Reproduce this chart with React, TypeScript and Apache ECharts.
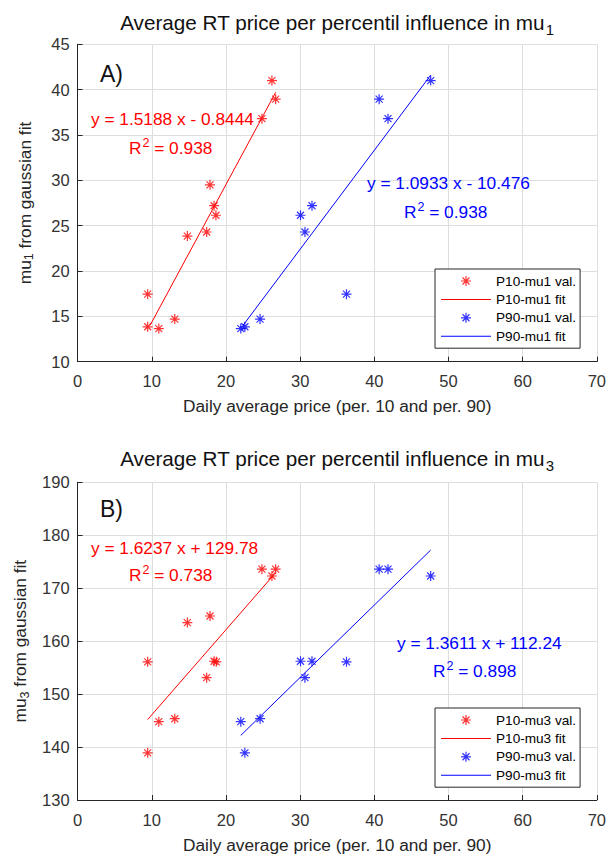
import React, { useEffect, useRef } from "react";
import * as echarts from "echarts";

// ---------- data ----------
// Panel A: mu1
const p10PriceA = [26.2, 26.7, 24.85, 17.85, 18.4, 18.65, 14.8, 17.4, 9.45, 9.45, 10.95, 13.1];
const p10Mu1 = [41.0, 38.95, 36.8, 29.5, 27.2, 26.15, 23.85, 24.3, 17.45, 13.85, 13.65, 14.7];
const p90PriceA = [47.6, 40.65, 41.85, 30.05, 31.6, 30.65, 36.25, 22.0, 22.55, 24.6];
const p90Mu1 = [41.0, 38.95, 36.8, 26.15, 27.2, 24.3, 17.45, 13.65, 13.85, 14.7];
const p10FitA = [[9.8, 14.05], [26.7, 39.7]];
const p90FitA = [[22.3, 14.0], [47.6, 41.6]];

// Panel B: mu3
const p10PriceB = [24.85, 26.7, 26.2, 17.85, 14.8, 9.45, 18.4, 18.7, 17.4, 10.95, 13.1, 9.45];
const p10Mu3 = [173.6, 173.6, 172.3, 164.75, 163.5, 156.1, 156.2, 156.1, 153.1, 144.8, 145.35, 138.9];
const p90PriceB = [40.65, 41.85, 47.6, 30.05, 31.6, 36.25, 30.65, 22.0, 24.6, 22.55];
const p90Mu3 = [173.6, 173.6, 172.3, 156.2, 156.2, 156.1, 153.1, 144.8, 145.35, 138.9];
const p10FitB = [[9.45, 145.2], [26.5, 172.6]];
const p90FitB = [[22.0, 142.2], [47.6, 177.2]];

const xTicks = { min: 0, max: 70, interval: 10 };
const yTicksA = { min: 10, max: 45, interval: 5 };
const yTicksB = { min: 130, max: 190, interval: 10 };

const eqA = ["y = 1.5188 x - 0.8444", "0.938", "y = 1.0933 x - 10.476", "0.938"];
const eqB = ["y = 1.6237 x + 129.78", "0.738", "y = 1.3611 x + 112.24", "0.898"];

// ---------- styling ----------
const FONT = '"Liberation Sans", Arial, Helvetica, sans-serif';
const RED = "#ff0000";
const BLUE = "#0000ff";
const AX = "#262626";
const STAR =
  "path://M8.8,0H11.2V20H8.8Z M0,8.8H20V11.2H0Z M2.15,3.85L3.85,2.15L17.85,16.15L16.15,17.85Z M16.15,2.15L17.85,3.85L3.85,17.85L2.15,16.15Z";
const LINE_ICON = "path://M0,0H50V1H0Z";

const pairs = (xs: number[], ys: number[]) => xs.map((x, i) => [x, ys[i]]);

function App() {
  const ref = useRef<HTMLDivElement>(null);
  useEffect(() => {
    if (!ref.current) return;
    const chart = echarts.init(ref.current, undefined, { renderer: "svg" });

    const grids = [
      { left: 77.6, top: 44.3, width: 519.4, height: 317.4 },
      { left: 77.6, top: 482.3, width: 519.4, height: 317.7 },
    ];

    const xAxis = (gi: number) => ({
      type: "value",
      gridIndex: gi,
      ...xTicks,
      name: "Daily average price (per. 10 and per. 90)",
      nameLocation: "middle",
      nameGap: 36,
      nameTextStyle: { fontSize: 17.3, color: AX, fontFamily: FONT },
      axisLine: { show: true, lineStyle: { color: AX, width: 1 } },
      axisTick: { show: true, inside: true, length: 5, lineStyle: { color: AX } },
      axisLabel: { fontSize: 16.5, color: "#333", margin: 11, fontFamily: FONT },
      splitLine: { show: true, lineStyle: { color: "#dedede", width: 1 } },
    });

    const yAxis = (gi: number, ticks: any, sub: string) => ({
      type: "value",
      gridIndex: gi,
      ...ticks,
      name: `{a|mu}{s|${sub}}{a| from gaussian fit}`,
      nameLocation: "middle",
      nameGap: 42,
      nameTextStyle: {
        color: AX,
        rich: {
          a: { fontSize: 17.3, color: AX, fontFamily: FONT },
          s: { fontSize: 12.5, color: AX, fontFamily: FONT, padding: [9, 0, 0, 0] },
        },
      },
      axisLine: { show: true, lineStyle: { color: AX, width: 1 } },
      axisTick: { show: true, inside: true, length: 5, lineStyle: { color: AX } },
      axisLabel: { fontSize: 16.5, color: "#333", margin: 8, fontFamily: FONT },
      splitLine: { show: true, lineStyle: { color: "#dedede", width: 1 } },
    });

    const scatter = (name: string, data: number[][], color: string, gi: number) => ({
      name,
      type: "scatter",
      xAxisIndex: gi,
      yAxisIndex: gi,
      data,
      symbol: STAR,
      symbolSize: 10,
      symbolKeepAspect: true,
      itemStyle: { color },
      z: 3,
    });
    const fit = (name: string, data: number[][], color: string, gi: number) => ({
      name,
      type: "line",
      xAxisIndex: gi,
      yAxisIndex: gi,
      data,
      symbol: "none",
      showSymbol: false,
      lineStyle: { color, width: 1 },
      itemStyle: { color },
      z: 2,
    });

    const legend = (top: number, names: string[]) => ({
      orient: "vertical",
      left: 435,
      top,
      data: [
        { name: names[0] },
        { name: names[1], icon: LINE_ICON },
        { name: names[2] },
        { name: names[3], icon: LINE_ICON },
      ],
      itemWidth: 50,
      itemHeight: 10,
      itemGap: 2.4,
      padding: [4, 4, 4, 6],
      borderColor: AX,
      borderWidth: 1,
      backgroundColor: "#ffffff",
      selectedMode: false,
      textStyle: { fontSize: 13.6, color: "#000", fontFamily: FONT, lineHeight: 16 },
    });

    const titleText = (y: number, sub: string) => ({
      type: "text",
      x: 337,
      y,
      z: 10,
      style: {
        text: `{t|Average RT price per percentil influence in mu}{s|${sub}}`,
        align: "center",
        verticalAlign: "middle",
        textAlign: "center",
        textVerticalAlign: "middle",
        fill: "#111",
        rich: {
          t: { fontSize: 20.7, fontFamily: FONT, fill: "#111", color: "#111" },
          s: { fontSize: 15, fontFamily: FONT, fill: "#111", color: "#111", padding: [14, 0, 0, 1] },
        },
      },
    });

    const plainText = (x: number, y: number, text: string, color: string, size: number) => ({
      type: "text",
      x,
      y,
      z: 10,
      style: {
        text,
        fill: color,
        fontSize: size,
        fontFamily: FONT,
        align: "left",
        verticalAlign: "middle",
        textAlign: "left",
        textVerticalAlign: "middle",
      },
    });

    const r2Text = (x: number, y: number, val: string, color: string) => ({
      type: "text",
      x,
      y,
      z: 10,
      style: {
        text: `{a|R}{p|2}{a| = ${val}}`,
        fill: color,
        align: "left",
        verticalAlign: "middle",
        textAlign: "left",
        textVerticalAlign: "middle",
        rich: {
          a: { fontSize: 17.3, fontFamily: FONT, fill: color, color },
          p: { fontSize: 12.5, fontFamily: FONT, fill: color, color, padding: [0, 0, 10, 1] },
        },
      },
    });

    chart.setOption({
      animation: false,
      textStyle: { fontFamily: FONT },
      grid: grids,
      xAxis: [xAxis(0), xAxis(1)],
      yAxis: [yAxis(0, yTicksA, "1"), yAxis(1, yTicksB, "3")],
      legend: [
        legend(269, ["P10-mu1 val.", "P10-mu1 fit", "P90-mu1 val.", "P90-mu1 fit"]),
        legend(708, ["P10-mu3 val.", "P10-mu3 fit", "P90-mu3 val.", "P90-mu3 fit"]),
      ],
      series: [
        scatter("P10-mu1 val.", pairs(p10PriceA, p10Mu1), RED, 0),
        fit("P10-mu1 fit", p10FitA, RED, 0),
        scatter("P90-mu1 val.", pairs(p90PriceA, p90Mu1), BLUE, 0),
        fit("P90-mu1 fit", p90FitA, BLUE, 0),
        scatter("P10-mu3 val.", pairs(p10PriceB, p10Mu3), RED, 1),
        fit("P10-mu3 fit", p10FitB, RED, 1),
        scatter("P90-mu3 val.", pairs(p90PriceB, p90Mu3), BLUE, 1),
        fit("P90-mu3 fit", p90FitB, BLUE, 1),
      ],
      graphic: [
        titleText(22, "1"),
        titleText(458, "3"),
        plainText(100, 74, "A)", "#111", 23),
        plainText(100, 509, "B)", "#111", 23),
        plainText(91, 119, eqA[0], RED, 17.3),
        r2Text(129, 148, eqA[1], RED),
        plainText(367, 183, eqA[2], BLUE, 17.3),
        r2Text(404, 212, eqA[3], BLUE),
        plainText(91, 548, eqB[0], RED, 17.3),
        r2Text(129, 575, eqB[1], RED),
        plainText(397, 643, eqB[2], BLUE, 17.3),
        r2Text(433, 671, eqB[3], BLUE),
      ],
    });

    return () => chart.dispose();
  }, []);

  return (
    <div
      ref={ref}
      style={{ position: "fixed", left: 0, top: 0, width: 609, height: 856, background: "#fff" }}
    />
  );
}

export default App;
